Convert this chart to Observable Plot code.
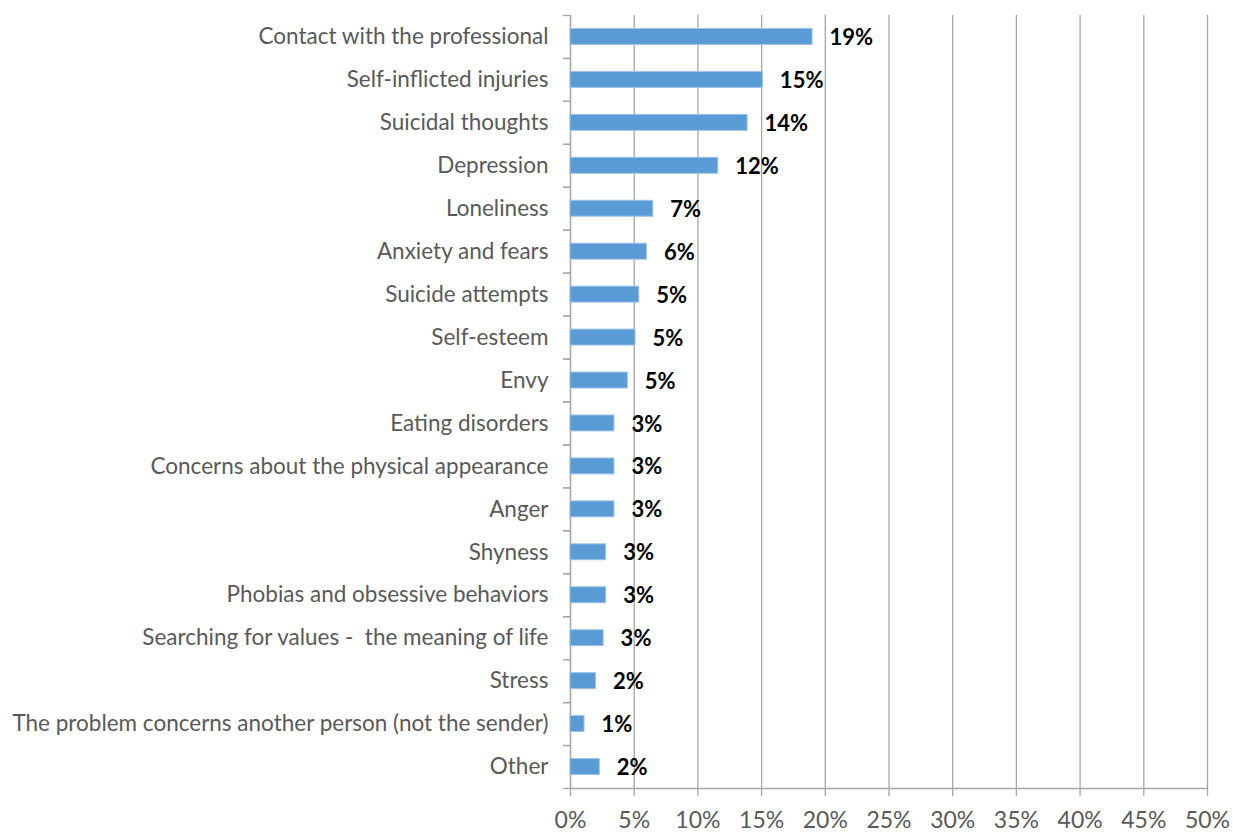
<!DOCTYPE html>
<html>
<head>
<meta charset="utf-8">
<script src="https://cdn.jsdelivr.net/npm/d3@7"></script>
<script src="https://cdn.jsdelivr.net/npm/@observablehq/plot@0.6"></script>
<style>
  html, body { margin: 0; padding: 0; background: #fff; overflow: hidden; }
  #chart svg { display: block; }
</style>
</head>
<body>
<div id="chart"></div>
<script>
const categories = [
  "Contact with the professional",
  "Self-inflicted injuries",
  "Suicidal thoughts",
  "Depression",
  "Loneliness",
  "Anxiety and fears",
  "Suicide attempts",
  "Self-esteem",
  "Envy",
  "Eating disorders",
  "Concerns about the physical appearance",
  "Anger",
  "Shyness",
  "Phobias and obsessive behaviors",
  "Searching for values -  the meaning of life",
  "Stress",
  "The problem concerns another person (not the sender)",
  "Other"
];
const values = [19.0, 15.1, 13.9, 11.6, 6.5, 6.0, 5.4, 5.1, 4.5, 3.45, 3.45, 3.45, 2.8, 2.8, 2.6, 2.0, 1.1, 2.3];
const valueLabels = ["19%", "15%", "14%", "12%", "7%", "6%", "5%", "5%", "5%", "3%", "3%", "3%", "3%", "3%", "3%", "2%", "1%", "2%"];
const xTicks = [0, 5, 10, 15, 20, 25, 30, 35, 40, 45, 50];
const xTickLabels = ["0%", "5%", "10%", "15%", "20%", "25%", "30%", "35%", "40%", "45%", "50%"];

const data = categories.map((c, i) => ({category: c, value: values[i], label: valueLabels[i]}));

const W = 1233, H = 832, mt = 15, mb = 44, ml = 570, mr = 26;
const bw = (H - mt - mb) / categories.length;
const gridColor = "#a6a6a6";
const font = "Lato, 'Open Sans', sans-serif";

const chart = Plot.plot({
  width: W,
  height: H,
  marginTop: mt,
  marginBottom: mb,
  marginLeft: ml,
  marginRight: mr,
  style: {fontFamily: font, color: "#595959", background: "#fff"},
  x: {domain: [xTicks[0], xTicks[xTicks.length - 1]]},
  y: {domain: categories, padding: 0, round: false},
  marks: [
    Plot.gridX(xTicks, {stroke: gridColor, strokeOpacity: 1, strokeWidth: 1.3}),
    Plot.ruleX([xTicks[0]], {stroke: gridColor, strokeWidth: 1.3}),
    Plot.ruleY([categories[categories.length - 1]], {x1: xTicks[0], x2: xTicks[xTicks.length - 1], dy: bw / 2, stroke: gridColor, strokeWidth: 1.3}),
    Plot.axisX(xTicks, {
      tickSize: 8, tickPadding: 15, stroke: gridColor, strokeWidth: 1.3,
      tickFormat: (d) => xTickLabels[xTicks.indexOf(d)],
      fontSize: 23, fill: "#595959", label: null
    }),
    Plot.axisY({tickSize: 7, tickFormat: () => "", dy: -bw / 2, stroke: gridColor, strokeWidth: 1.3, label: null}),
    Plot.axisY({tickSize: 7, tickFormat: () => "", dy: bw / 2, stroke: gridColor, strokeWidth: 1.3, label: null}),
    Plot.axisY({tickSize: 0, tickPadding: 22, fontSize: 22.5, fill: "#595959", label: null}),
    Plot.barX(data, {x: "value", y: "category", fill: "#5b9bd5", stroke: "#9cc2e8", strokeWidth: 1, insetTop: 13.5, insetBottom: 13.5}),
    Plot.text(data, {x: "value", y: "category", text: "label", textAnchor: "start", dx: 17, dy: 1, fontSize: 22, fontWeight: "bold", fill: "#000"})
  ]
});
document.getElementById("chart").appendChild(chart);
</script>
</body>
</html>
